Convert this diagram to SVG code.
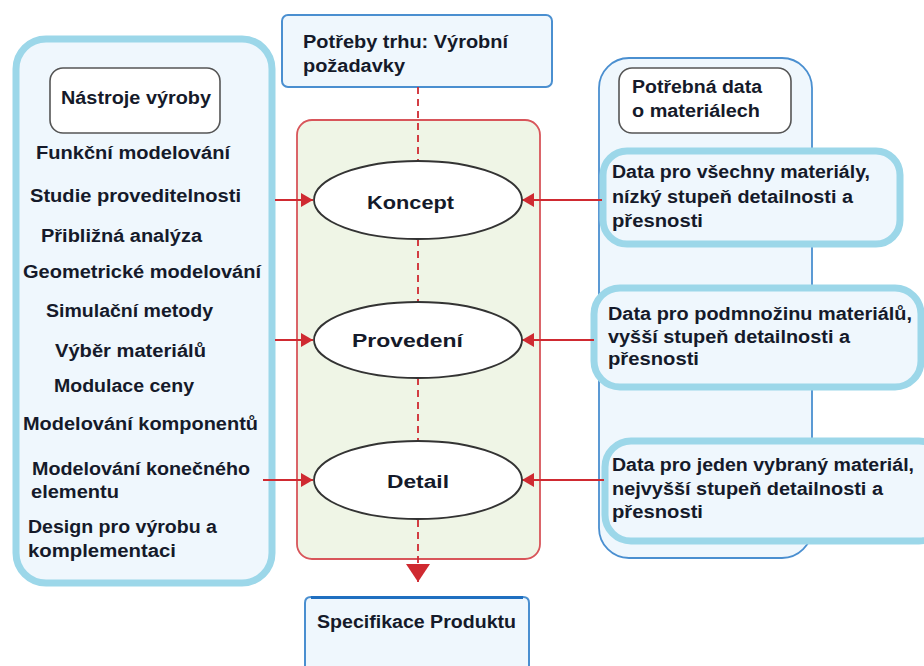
<svg xmlns="http://www.w3.org/2000/svg" width="924" height="666" viewBox="0 0 924 666">
<defs>
<style>
.t{font-family:"Liberation Sans",Arial,sans-serif;font-weight:bold;font-size:17.5px;fill:#151a2a}
.thick{fill:#eff7fd;stroke:#9cd7e9;stroke-width:7}
.blue{fill:#eff7fd;stroke:#4a8fd0;stroke-width:2}
.lbl{fill:#fff;stroke:#555;stroke-width:1.6}
.ell{fill:#fff;stroke:#333;stroke-width:1.8}
.arr{stroke:#cf2a31;stroke-width:1.8;fill:none}
.dash{stroke:#cf2a31;stroke-width:1.8;fill:none;stroke-dasharray:7 5}
</style>
<marker id="ah" viewBox="0 0 12 14" refX="12" refY="7" markerWidth="12" markerHeight="14" markerUnits="userSpaceOnUse" orient="auto">
<path d="M0,0 L12,7 L0,14 Z" fill="#cf2a31"/>
</marker>
<marker id="ahb" viewBox="0 0 18 24" refX="18" refY="12" markerWidth="18" markerHeight="24" markerUnits="userSpaceOnUse" orient="auto">
<path d="M0,0 L18,12 L0,24 Z" fill="#cf2a31"/>
</marker>
</defs>

<g id="tools">
<rect class="thick" x="16" y="39" width="256" height="544" rx="30"/>
<g id="tools-label">
<rect class="lbl" x="50" y="68" width="170" height="65" rx="13"/>
<text class="t" x="61" y="104" textLength="150" lengthAdjust="spacingAndGlyphs">Nástroje výroby</text>
</g>
<text class="t" x="36" y="159" textLength="194" lengthAdjust="spacingAndGlyphs">Funkční modelování</text>
<text class="t" x="30" y="202" textLength="211" lengthAdjust="spacingAndGlyphs">Studie proveditelnosti</text>
<text class="t" x="41" y="242" textLength="161" lengthAdjust="spacingAndGlyphs">Přibližná analýza</text>
<text class="t" x="23" y="278" textLength="238" lengthAdjust="spacingAndGlyphs">Geometrické modelování</text>
<text class="t" x="46" y="317" textLength="167" lengthAdjust="spacingAndGlyphs">Simulační metody</text>
<text class="t" x="55" y="357" textLength="151" lengthAdjust="spacingAndGlyphs">Výběr materiálů</text>
<text class="t" x="54" y="392" textLength="140" lengthAdjust="spacingAndGlyphs">Modulace ceny</text>
<text class="t" x="23" y="430" textLength="235" lengthAdjust="spacingAndGlyphs">Modelování komponentů</text>
<text class="t" x="32" y="475" textLength="218" lengthAdjust="spacingAndGlyphs">Modelování konečného</text>
<text class="t" x="31" y="498" textLength="88" lengthAdjust="spacingAndGlyphs">elementu</text>
<text class="t" x="28" y="533" textLength="189" lengthAdjust="spacingAndGlyphs">Design pro výrobu a</text>
<text class="t" x="28" y="557" textLength="148" lengthAdjust="spacingAndGlyphs">komplementaci</text>
</g>

<g id="process">
<rect x="297" y="120" width="243" height="439" rx="15" fill="#eff5e6" stroke="#d8555a" stroke-width="1.8"/>
</g>

<g id="market">
<rect class="blue" x="282" y="15" width="270" height="72" rx="6"/>
<text class="t" x="303" y="48" textLength="205" lengthAdjust="spacingAndGlyphs">Potřeby trhu: Výrobní</text>
<text class="t" x="303" y="72" textLength="102" lengthAdjust="spacingAndGlyphs">požadavky</text>
</g>

<g id="spec">
<path d="M305,666 L305,603 Q305,597 311,597 L523,597 Q529,597 529,603 L529,666" fill="#eff7fd" stroke="#4a8fd0" stroke-width="2"/>
<line x1="311" y1="597.5" x2="523" y2="597.5" stroke="#1f6fc0" stroke-width="3"/>
<text class="t" x="317" y="628" font-size="16.5" textLength="199" lengthAdjust="spacingAndGlyphs">Specifikace Produktu</text>
</g>

<g id="materials">
<rect x="599" y="58" width="213" height="500" rx="30" fill="#eff7fd" stroke="#4a8fd0" stroke-width="1.8"/>
<g id="materials-label">
<rect class="lbl" x="619" y="68" width="172" height="65" rx="13"/>
<text class="t" x="632" y="93" textLength="130" lengthAdjust="spacingAndGlyphs">Potřebná data</text>
<text class="t" x="632" y="117" textLength="128" lengthAdjust="spacingAndGlyphs">o materiálech</text>
</g>
</g>

<g id="data1">
<rect class="thick" x="603" y="151" width="297" height="93" rx="24"/>
<text class="t" x="612" y="178" textLength="258" lengthAdjust="spacingAndGlyphs">Data pro všechny materiály,</text>
<text class="t" x="612" y="203" textLength="241" lengthAdjust="spacingAndGlyphs">nízký stupeň detailnosti a</text>
<text class="t" x="612" y="227" textLength="91" lengthAdjust="spacingAndGlyphs">přesnosti</text>
</g>
<g id="data2">
<rect class="thick" x="594" y="288" width="327" height="99" rx="26"/>
<text class="t" x="608" y="320" textLength="304" lengthAdjust="spacingAndGlyphs">Data pro podmnožinu materiálů,</text>
<text class="t" x="608" y="343" textLength="242" lengthAdjust="spacingAndGlyphs">vyšší stupeň detailnosti a</text>
<text class="t" x="608" y="365" textLength="91" lengthAdjust="spacingAndGlyphs">přesnosti</text>
</g>
<g id="data3">
<rect class="thick" x="605" y="441" width="340" height="100" rx="26"/>
<text class="t" x="612" y="471" textLength="302" lengthAdjust="spacingAndGlyphs">Data pro jeden vybraný materiál,</text>
<text class="t" x="612" y="495" textLength="271" lengthAdjust="spacingAndGlyphs">nejvyšší stupeň detailnosti a</text>
<text class="t" x="612" y="518" textLength="91" lengthAdjust="spacingAndGlyphs">přesnosti</text>
</g>

<g id="connectors">
<line class="dash" x1="418" y1="87" x2="418" y2="161"/>
<line class="dash" x1="418" y1="239" x2="418" y2="302"/>
<line class="dash" x1="418" y1="378" x2="418" y2="441"/>
<line class="dash" x1="418" y1="520" x2="418" y2="582" marker-end="url(#ahb)"/>
<line class="arr" x1="275" y1="200" x2="313" y2="200" marker-end="url(#ah)"/>
<line class="arr" x1="275" y1="340" x2="313" y2="340" marker-end="url(#ah)"/>
<line class="arr" x1="263" y1="480" x2="313" y2="480" marker-end="url(#ah)"/>
<line class="arr" x1="602" y1="200" x2="522" y2="200" marker-end="url(#ah)"/>
<line class="arr" x1="594" y1="340" x2="522" y2="340" marker-end="url(#ah)"/>
<line class="arr" x1="604" y1="480" x2="522" y2="480" marker-end="url(#ah)"/>
</g>

<g id="koncept">
<ellipse class="ell" cx="418" cy="200" rx="104" ry="39"/>
<text class="t" x="367" y="209" font-size="22" textLength="87" lengthAdjust="spacingAndGlyphs">Koncept</text>
</g>
<g id="provedeni">
<ellipse class="ell" cx="418" cy="340" rx="104" ry="38"/>
<text class="t" x="352" y="347" font-size="22" textLength="111" lengthAdjust="spacingAndGlyphs">Provedení</text>
</g>
<g id="detail">
<ellipse class="ell" cx="418" cy="480" rx="104" ry="39"/>
<text class="t" x="387" y="488" font-size="22" textLength="62" lengthAdjust="spacingAndGlyphs">Detail</text>
</g>
</svg>
